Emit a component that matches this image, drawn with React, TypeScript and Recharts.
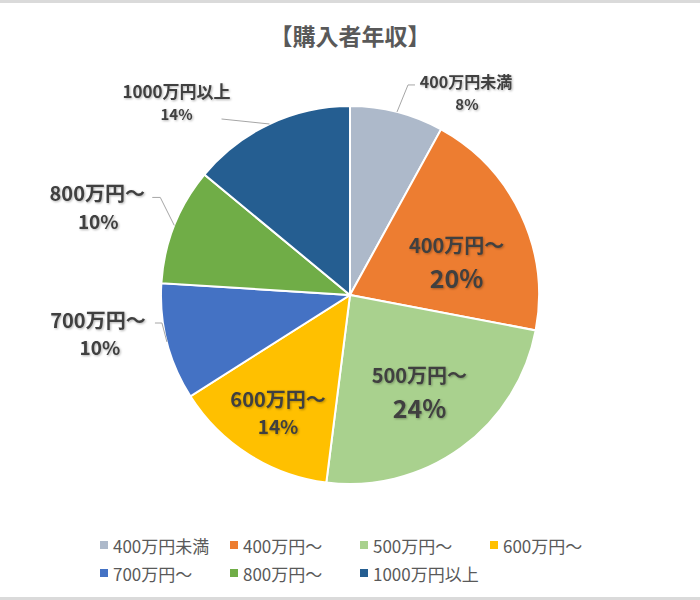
import {Cell, Legend, Pie, PieChart} from "recharts";

const categories = ["400万円未満", "400万円～", "500万円～", "600万円～", "700万円～", "800万円～", "1000万円以上"];
const shares = [8, 20, 24, 14, 10, 10, 14];
const percentLabels = ["8%", "20%", "24%", "14%", "10%", "10%", "14%"];

const COLORS = ["#ADB9CA", "#ED7D31", "#A9D18E", "#FFC000", "#4472C4", "#70AD47", "#255E91"];
const FONT = "'Noto Sans CJK JP', 'Noto Sans', sans-serif";
const RAD = Math.PI / 180;

// label layout per slice (inside = polar offset, outside = leader line + text offsets)
const labelLayout: any[] = [
    {kind: "out", elbow: [11, -27], tail: 7, l1: [69, -31], l2: [70, -8], s1: 16, s2: 15},
    {kind: "in", rf: 0.6, dx: 4, dy: 14, gap: 16, s1: 20, s2: 25},
    {kind: "in", rf: 0.625, dx: 0, dy: 0, gap: 16, s1: 20, s2: 25},
    {kind: "in", rf: 0.73, dx: 2, dy: 1, gap: 13.5, s1: 20, s2: 19},
    {kind: "out", elbow: [-5, -19], tail: -7, l1: [-69, -23], l2: [-67, 4], s1: 20, s2: 19},
    {kind: "out", elbow: [-14, -28], tail: -8, l1: [-77, -33], l2: [-76, -5], s1: 20, s2: 19},
    {kind: "out", elbow: [-48, -5], tail: 0, l1: [-93, -33], l2: [-93, -10], s1: 17, s2: 15},
];

const chartData = categories.map((name, i) => ({name, value: shares[i]}));

const textStyle = {filter: "drop-shadow(1px 1px 1px rgba(0,0,0,0.3))"};

const renderLabel = (props: any) => {
    const {cx, cy, midAngle, outerRadius, index} = props;
    const cfg = labelLayout[index];
    const cos = Math.cos(-midAngle * RAD);
    const sin = Math.sin(-midAngle * RAD);
    if (cfg.kind === "in") {
        const r = outerRadius * cfg.rf;
        const x = cx + r * cos + cfg.dx;
        const y = cy + r * sin + cfg.dy;
        return (
            <g key={`lbl-${index}`} style={textStyle}>
                <text x={x} y={y - cfg.gap} textAnchor="middle" dominantBaseline="central"
                      fontFamily={FONT} fontWeight="bold" fontSize={cfg.s1} fill="#404040">{categories[index]}</text>
                <text x={x} y={y + cfg.gap} textAnchor="middle" dominantBaseline="central"
                      fontFamily={FONT} fontWeight="bold" fontSize={cfg.s2} fill="#404040">{percentLabels[index]}</text>
            </g>
        );
    }
    const px = cx + outerRadius * cos;
    const py = cy + outerRadius * sin;
    const ex = px + cfg.elbow[0];
    const ey = py + cfg.elbow[1];
    return (
        <g key={`lbl-${index}`}>
            <polyline points={`${px},${py} ${ex},${ey} ${ex + cfg.tail},${ey}`} fill="none" stroke="#a6a6a6"
                      strokeWidth={1}/>
            <g style={textStyle}>
                <text x={px + cfg.l1[0]} y={py + cfg.l1[1]} textAnchor="middle" dominantBaseline="central"
                      fontFamily={FONT} fontWeight="bold" fontSize={cfg.s1} fill="#404040">{categories[index]}</text>
                <text x={px + cfg.l2[0]} y={py + cfg.l2[1]} textAnchor="middle" dominantBaseline="central"
                      fontFamily={FONT} fontWeight="bold" fontSize={cfg.s2} fill="#404040">{percentLabels[index]}</text>
            </g>
        </g>
    );
};

const renderLegend = () => (
    <div style={{display: "flex", flexWrap: "wrap", width: 530, marginLeft: 100, rowGap: 10, fontFamily: FONT}}>
        {categories.map((c, i) => (
            <div key={c} style={{width: 130, height: 18, display: "flex", alignItems: "center"}}>
                <span style={{width: 8, height: 8, background: COLORS[i], marginRight: 5, display: "inline-block"}}/>
                <span style={{fontSize: 17, color: "#595959"}}>{c}</span>
            </div>
        ))}
    </div>
);

export default function App() {
    return (
        <div style={{position: "absolute", left: 0, top: 0, width: 700, height: 600, background: "#fff"}}>
            <div style={{position: "absolute", left: 0, top: 0, width: 700, height: 3, background: "#dadada"}}/>
            <div style={{position: "absolute", left: 0, bottom: 0, width: 700, height: 3, background: "#dadada"}}/>
            <div style={{
                position: "absolute", left: 0, top: 21, width: 700, textAlign: "center", fontFamily: FONT,
                fontSize: 23, fontWeight: "bold", color: "#595959", lineHeight: "28px"
            }}>【購入者年収】
            </div>
            <PieChart width={700} height={600} margin={{top: 0, right: 0, bottom: 0, left: 0}}>
                <Pie
                    data={chartData}
                    dataKey="value"
                    nameKey="name"
                    cx={350}
                    cy={295}
                    outerRadius={189}
                    startAngle={90}
                    endAngle={-270}
                    stroke="#ffffff"
                    strokeWidth={2}
                    label={renderLabel}
                    labelLine={false}
                    isAnimationActive={false}
                >
                    {chartData.map((_entry, index) => (
                        <Cell key={`cell-${index}`} fill={COLORS[index]}/>
                    ))}
                </Pie>
                <Legend content={renderLegend} wrapperStyle={{top: 536, left: 0, width: 700, bottom: "auto"}}/>
            </PieChart>
        </div>
    );
}
